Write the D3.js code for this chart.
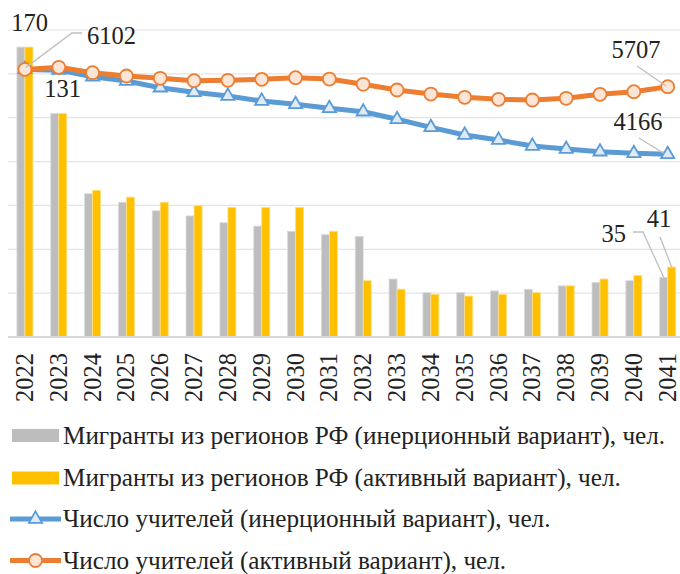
<!DOCTYPE html>
<html>
<head>
<meta charset="utf-8">
<script src="https://cdn.jsdelivr.net/npm/d3@7"></script>
<style>
	body { margin: 0; background: #fff; }
	svg { display: block; }
</style>
</head>
<body>
<script>
const years = ['2022', '2023', '2024', '2025', '2026', '2027', '2028', '2029', '2030', '2031',
	'2032', '2033', '2034', '2035', '2036', '2037', '2038', '2039', '2040', '2041'];

// мигранты, чел. (вспомогательная ось)
const migrantsInertial = [170, 131, 84, 79, 74, 71, 67, 65, 62, 60, 59, 34, 26, 26, 27, 28, 30, 32, 33, 35];
const migrantsActive = [170, 131, 86, 82, 79, 77, 76, 76, 76, 62, 33, 28, 25, 24, 25, 26, 30, 34, 36, 41];

// число учителей, чел.
const teachersInertial = [6102, 6085, 5935, 5837, 5684, 5579, 5495, 5381, 5305, 5214,
	5137, 4964, 4781, 4606, 4492, 4355, 4286, 4225, 4188, 4166];
const teachersActive = [6102, 6150, 6026, 5951, 5898, 5844, 5853, 5875, 5912, 5882,
	5762, 5632, 5540, 5465, 5420, 5404, 5442, 5534, 5593, 5707];

const legendLabels = [
	'Мигранты из регионов РФ (инерционный вариант), чел.',
	'Мигранты из регионов РФ (активный вариант), чел.',
	'Число учителей (инерционный вариант), чел.',
	'Число учителей (активный вариант), чел.'
];

const w = 680;
const h = 574;
const font = "'Times New Roman', 'Liberation Serif', 'DejaVu Serif', serif";

const grey = '#bdbdbd';
const yellow = '#ffc000';
const blue = '#5b9bd5';
const orange = '#ed7d31';

const svg = d3.select('body').append('svg')
	.attr('width', w)
	.attr('height', h)
	.style('font-family', font);

const x = d3.scaleBand()
	.domain(years)
	.range([8, 684.6]);

const sub = d3.scaleBand()
	.domain(['inertial', 'active'])
	.range([-8, 8]);

const yBar = d3.scaleLinear().domain([0, 180]).range([337, 30]);
const yLine = d3.scaleLinear().domain([0, 7000]).range([337, 30]);

const cx = d => x(d) + x.bandwidth() / 2;

// сетка
svg.append('g')
	.selectAll('line')
	.data(d3.range(1000, 7001, 1000))
	.enter()
	.append('line')
	.attr('x1', 8)
	.attr('x2', w)
	.attr('y1', d => yLine(d))
	.attr('y2', d => yLine(d))
	.attr('stroke', '#e4e4e4')
	.attr('stroke-width', 1.2);

// столбцы
const barSeries = [
	{ key: 'inertial', values: migrantsInertial, color: grey, edge: '#dcdcdc' },
	{ key: 'active', values: migrantsActive, color: yellow, edge: '#ffdf80' }
];

barSeries.forEach(s => {
	svg.append('g')
		.selectAll('rect')
		.data(years)
		.enter()
		.append('rect')
		.attr('x', d => cx(d) + sub(s.key))
		.attr('width', sub.bandwidth())
		.attr('y', (d, i) => yBar(s.values[i]))
		.attr('height', (d, i) => yBar(0) - yBar(s.values[i]))
		.attr('fill', s.color)
		.attr('stroke', s.edge)
		.attr('stroke-width', 0.8);
});

// ось X
svg.append('line')
	.attr('x1', 8)
	.attr('x2', w)
	.attr('y1', yBar(0))
	.attr('y2', yBar(0))
	.attr('stroke', '#d9d9d9')
	.attr('stroke-width', 2);

svg.append('g')
	.selectAll('text')
	.data(years)
	.enter()
	.append('text')
	.attr('transform', d => `translate(${cx(d) + 8},353) rotate(-90)`)
	.attr('text-anchor', 'end')
	.attr('font-size', 24.5)
	.attr('fill', '#222')
	.text(d => d);

// линии
const line = d3.line()
	.x((d, i) => cx(years[i]))
	.y(d => yLine(d));

const tri = d3.symbol().type(d3.symbolTriangle).size(75);

svg.append('path')
	.datum(teachersInertial)
	.attr('d', line)
	.attr('fill', 'none')
	.attr('stroke', blue)
	.attr('stroke-width', 5)
	.attr('stroke-linejoin', 'round');

svg.append('g')
	.selectAll('path')
	.data(teachersInertial)
	.enter()
	.append('path')
	.attr('d', tri)
	.attr('transform', (d, i) => `translate(${cx(years[i])},${yLine(d)})`)
	.attr('fill', '#deebf7')
	.attr('stroke', blue)
	.attr('stroke-width', 1.8);

svg.append('path')
	.datum(teachersActive)
	.attr('d', line)
	.attr('fill', 'none')
	.attr('stroke', orange)
	.attr('stroke-width', 5)
	.attr('stroke-linejoin', 'round');

svg.append('g')
	.selectAll('circle')
	.data(teachersActive)
	.enter()
	.append('circle')
	.attr('cx', (d, i) => cx(years[i]))
	.attr('cy', d => yLine(d))
	.attr('r', 6.5)
	.attr('fill', '#fbe5d6')
	.attr('stroke', orange)
	.attr('stroke-width', 1.8);

// подписи данных
const last = years.length - 1;

function label(txt, tx, ty, anchor) {
	svg.append('text')
		.attr('x', tx)
		.attr('y', ty)
		.attr('text-anchor', anchor)
		.attr('font-size', 24.5)
		.attr('fill', '#222')
		.text(txt);
}

function leader(points) {
	svg.append('path')
		.attr('d', d3.line()(points))
		.attr('fill', 'none')
		.attr('stroke', '#bfbfbf')
		.attr('stroke-width', 1.3);
}

label(migrantsInertial[0], 29.5, 31, 'middle');
label(migrantsInertial[1], 62.5, 97, 'middle');

leader([[cx(years[0]) + 1, yLine(teachersActive[0]) - 2], [72, 33], [82, 33]]);
label(teachersActive[0], 87, 44, 'start');

leader([[637, 66], [cx(years[last]) - 2, yLine(teachersActive[last]) - 1]]);
label(teachersActive[last], 636, 58, 'middle');

leader([[639, 138], [cx(years[last]) - 4, yLine(teachersInertial[last]) - 1]]);
label(teachersInertial[last], 638, 130, 'middle');

leader([[633, 232], [643, 232], [cx(years[last]) - 4, yBar(migrantsInertial[last])]]);
label(migrantsInertial[last], 626, 242, 'end');

leader([[660, 237], [cx(years[last]) + 4, yBar(migrantsActive[last])]]);
label(migrantsActive[last], 659, 227, 'middle');

// легенда
const legend = svg.append('g');
const rowY = [444, 485.5, 527, 568.5];

legend.append('rect').attr('x', 12).attr('y', 429).attr('width', 47).attr('height', 13).attr('fill', grey);
legend.append('rect').attr('x', 12).attr('y', 471.5).attr('width', 47).attr('height', 13).attr('fill', yellow);

legend.append('line').attr('x1', 10).attr('x2', 61).attr('y1', rowY[2] - 8).attr('y2', rowY[2] - 8)
	.attr('stroke', blue).attr('stroke-width', 5);
legend.append('path').attr('d', tri)
	.attr('transform', `translate(35.5,${rowY[2] - 8})`)
	.attr('fill', '#deebf7').attr('stroke', blue).attr('stroke-width', 1.8);

legend.append('line').attr('x1', 10).attr('x2', 61).attr('y1', rowY[3] - 8).attr('y2', rowY[3] - 8)
	.attr('stroke', orange).attr('stroke-width', 5);
legend.append('circle').attr('cx', 35.5).attr('cy', rowY[3] - 8).attr('r', 6.5)
	.attr('fill', '#fbe5d6').attr('stroke', orange).attr('stroke-width', 1.8);

legend.selectAll('text')
	.data(legendLabels)
	.enter()
	.append('text')
	.attr('x', 63)
	.attr('y', (d, i) => rowY[i])
	.attr('font-size', 25.2)
	.attr('fill', '#222')
	.text(d => d);
</script>
</body>
</html>
